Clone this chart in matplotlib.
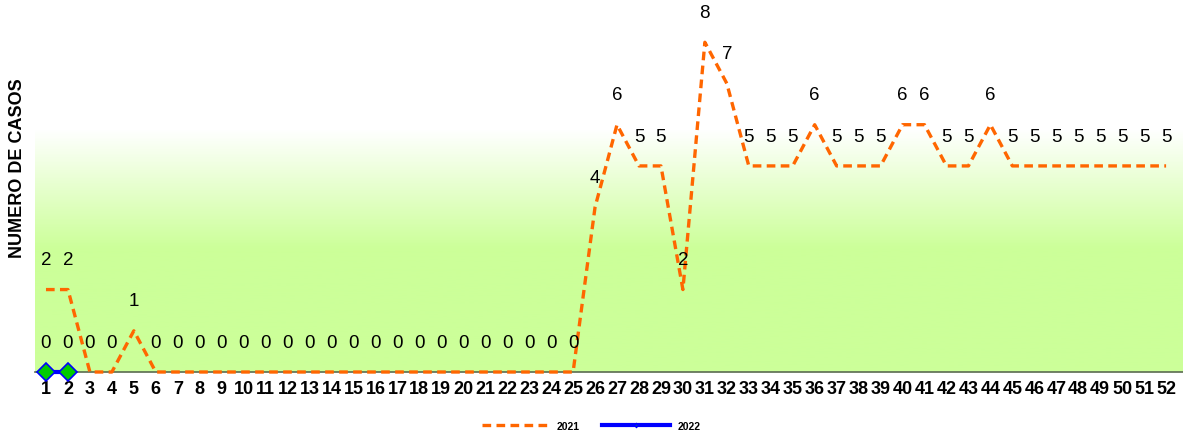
import numpy as np
import matplotlib
matplotlib.use("Agg")
import matplotlib.pyplot as plt
from matplotlib.colors import LinearSegmentedColormap

plt.rcParams['font.family'] = ['Liberation Sans', 'DejaVu Sans']

weeks = list(range(1, 53))
cases_2021 = [2, 2, 0, 0, 1, 0, 0, 0, 0, 0, 0, 0, 0, 0, 0, 0, 0, 0, 0, 0,
              0, 0, 0, 0, 0, 4, 6, 5, 5, 2, 8, 7, 5, 5, 5, 6, 5, 5, 5, 6,
              6, 5, 5, 6, 5, 5, 5, 5, 5, 5, 5, 5]
weeks_2022 = [1, 2]
cases_2022 = [0, 0]
ylabel = "NUMERO DE CASOS"

fig = plt.figure(figsize=(11.83, 4.35), dpi=100)
ax = fig.add_axes([35/1183, (435-373)/435, 1 - 35/1183, 373/435])
ax.set_xlim(0.5, 52.77)
ax.set_ylim(0, 9.05)

green = np.array([204, 255, 153]) / 255
grad = np.linspace(0, 1, 400).reshape(-1, 1)
stops = [(0.0, green), (0.33, green), (0.65, (1, 1, 1)), (1.0, (1, 1, 1))]
cmap = LinearSegmentedColormap.from_list('g', stops, N=256)
ax.imshow(grad, aspect='auto', cmap=cmap, origin='lower',
          extent=[0, 1, 0, 1], transform=ax.transAxes, zorder=0, vmin=0, vmax=1)

l1, = ax.plot(weeks, cases_2021, color='#FF6600', lw=2.4,
              linestyle=(0, (2.6, 1.6)), label='2021', zorder=3, clip_on=False)
l2, = ax.plot(weeks_2022, cases_2022, color='#0000FF', lw=3, marker='D',
              markersize=9, markerfacecolor='#00CC00', markeredgecolor='#0000FF',
              markeredgewidth=1.2, label='2022', zorder=4, clip_on=False)

for x, y in zip(weeks, cases_2021):
    ax.annotate(str(y), (x, y), xytext=(0, 21.5), textcoords='offset points',
                ha='center', va='center', fontsize=13.5, color='black', zorder=5)
for x, y in zip(weeks_2022, cases_2022):
    ax.annotate(str(y), (x, y), xytext=(0, 21.5), textcoords='offset points',
                ha='center', va='center', fontsize=13.5, color='black', zorder=5)

for s in ['top', 'right', 'left']:
    ax.spines[s].set_visible(False)
ax.spines['bottom'].set_color('#5A6B50')
ax.spines['bottom'].set_linewidth(1.2)
ax.spines['bottom'].set_zorder(2)
ax.set_yticks([])
ax.set_xticks(weeks)
ax.set_xticklabels([str(w) for w in weeks], fontsize=13, fontweight='bold')
ax.tick_params(axis='x', length=0, pad=6)

fig.text(18/1183, 1 - 168/435, ylabel, rotation=90, ha='center', va='center',
         fontsize=13, fontweight='bold')

leg = fig.legend(handles=[l1, l2], loc='center',
                 bbox_to_anchor=(591/1183, 1 - 427/435), ncol=2, frameon=False,
                 prop={'size': 7.5, 'weight': 'bold'}, handlelength=6.5,
                 columnspacing=2.2, handletextpad=0.7, markerscale=0.2)

fig.savefig('out.png', dpi=100)
